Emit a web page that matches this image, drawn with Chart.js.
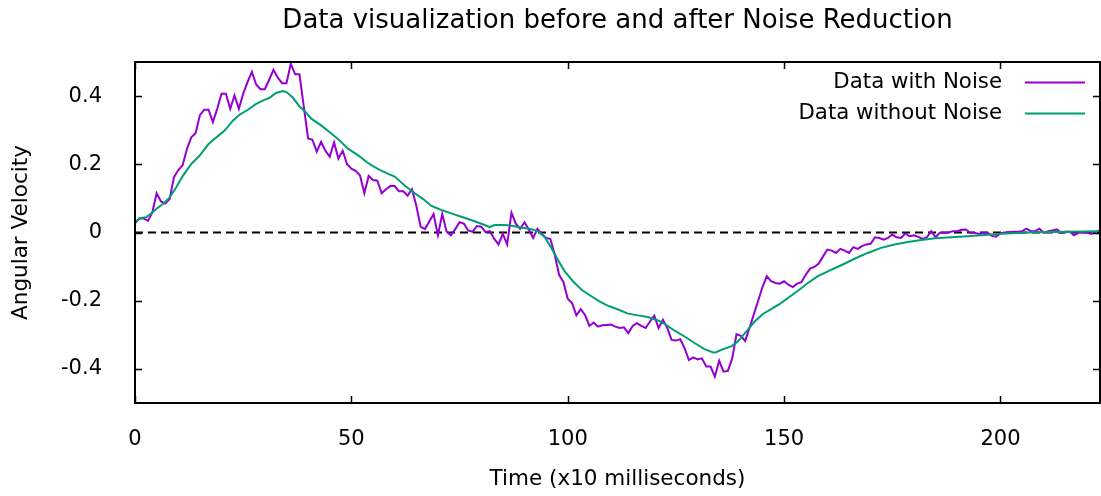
<!DOCTYPE html>
<html>
<head>
<meta charset="utf-8">
<script src="https://cdn.jsdelivr.net/npm/chart.js@4.4.0/dist/chart.umd.min.js"></script>
<style>
  html, body { margin: 0; padding: 0; background: #fff; }
  #wrap { width: 1101px; height: 496px; }
</style>
</head>
<body>
<div id="wrap"><canvas id="chart" width="1101" height="496"></canvas></div>
<script>
// noisy samples, one per time step (x10 ms), starting at 0
const noisyValues = [
  0.027, 0.041, 0.042, 0.034, 0.059, 0.115, 0.091, 0.085, 0.098, 0.162,
  0.183, 0.197, 0.245, 0.279, 0.291, 0.344, 0.360, 0.360, 0.324, 0.363,
  0.407, 0.407, 0.363, 0.402, 0.363, 0.407, 0.441, 0.471, 0.434, 0.420,
  0.420, 0.448, 0.477, 0.454, 0.438, 0.438, 0.495, 0.464, 0.464, 0.370,
  0.276, 0.272, 0.237, 0.266, 0.240, 0.222, 0.264, 0.217, 0.240, 0.200,
  0.187, 0.181, 0.167, 0.115, 0.166, 0.154, 0.152, 0.115, 0.127, 0.136,
  0.136, 0.121, 0.121, 0.108, 0.127, 0.079, 0.017, 0.010, 0.032, 0.054,
  -0.008, 0.054, 0.003, -0.008, 0.010, 0.030, 0.026, 0.006, 0.002, 0.019,
  0.017, 0.001, 0.004, -0.018, -0.035, -0.004, -0.035, 0.058, 0.026, 0.011,
  0.030, 0.009, -0.016, 0.011, -0.004, -0.016, -0.019, -0.065, -0.124, -0.145,
  -0.194, -0.207, -0.243, -0.225, -0.242, -0.274, -0.264, -0.276, -0.272, -0.271,
  -0.270, -0.276, -0.280, -0.278, -0.295, -0.274, -0.266, -0.274, -0.280, -0.261,
  -0.244, -0.280, -0.256, -0.280, -0.315, -0.317, -0.313, -0.339, -0.374, -0.366,
  -0.372, -0.369, -0.393, -0.393, -0.423, -0.376, -0.408, -0.406, -0.370, -0.298,
  -0.303, -0.318, -0.280, -0.240, -0.200, -0.160, -0.128, -0.143, -0.148, -0.150,
  -0.143, -0.153, -0.160, -0.150, -0.146, -0.124, -0.106, -0.101, -0.091, -0.070,
  -0.050, -0.053, -0.060, -0.048, -0.053, -0.060, -0.043, -0.048, -0.040, -0.035,
  -0.033, -0.014, -0.016, -0.021, -0.016, -0.006, -0.014, -0.016, -0.003, -0.011,
  -0.008, -0.013, -0.019, -0.014, 0.004, -0.014, -0.001, -0.001, 0.000, 0.004,
  0.004, 0.008, 0.009, -0.001, -0.001, -0.004, -0.001, -0.001, -0.010, -0.012,
  -0.002, 0.000, 0.001, 0.002, 0.002, 0.004, 0.011, 0.004, 0.004, 0.011,
  -0.001, 0.004, 0.006, 0.009, -0.001, 0.002, 0.002, -0.008, -0.001, -0.001,
  -0.001, -0.004, 0.002, 0.006
];

const smoothTimes = [
  0, 1.1, 2.6, 3.8, 4.9, 6.5, 8, 9.5, 11.1, 13, 14.9, 16.9, 18.8, 20.7, 22.6,
  24.2, 26.1, 28, 29.9, 31.1, 32.6, 34.2, 35.1, 36.5, 38, 39.3, 40.8, 43, 45,
  46.9, 49.3, 51.6, 53.9, 56.2, 58.5, 60, 62.4, 64.3, 66.6, 68.5, 70.8, 73.1,
  75.4, 78.5, 80.8, 81.9, 83.1, 85.4, 87.4, 89.3, 91.2, 93.1, 94.7, 96.2, 97.8,
  99.3, 101.2, 103.2, 105.1, 107, 109.3, 111.5, 113.9, 116.2, 118.5, 120.9,
  122.4, 124.7, 127, 129.3, 131.6, 133.6, 134.3, 135.9, 137.8, 139.3, 141.3,
  143.2, 145.1, 147.1, 149.2, 150.9, 153.2, 155.5, 157.8, 160.1, 163.2, 166.3,
  169.3, 172.4, 175.5, 178.6, 181.7, 184.8, 192.4, 200.1, 207.8, 215.5, 223
];
const smoothValues = [
  0.030, 0.042, 0.045, 0.056, 0.069, 0.084, 0.103, 0.132, 0.167, 0.201, 0.225,
  0.258, 0.279, 0.299, 0.328, 0.346, 0.360, 0.377, 0.389, 0.395, 0.409, 0.415,
  0.411, 0.395, 0.370, 0.355, 0.333, 0.314, 0.294, 0.274, 0.245, 0.226, 0.203,
  0.186, 0.172, 0.164, 0.137, 0.118, 0.098, 0.078, 0.066, 0.056, 0.046, 0.033,
  0.022, 0.016, 0.022, 0.022, 0.019, 0.014, 0.011, 0.004, -0.014, -0.045,
  -0.082, -0.114, -0.143, -0.168, -0.184, -0.200, -0.215, -0.225, -0.238,
  -0.243, -0.248, -0.258, -0.268, -0.288, -0.305, -0.324, -0.342, -0.352,
  -0.351, -0.342, -0.334, -0.320, -0.290, -0.261, -0.239, -0.224, -0.208,
  -0.192, -0.171, -0.148, -0.128, -0.114, -0.096, -0.077, -0.060, -0.045,
  -0.035, -0.028, -0.022, -0.017, -0.011, -0.004, 0.001, 0.002, 0.004
];

const xTicks = [0, 50, 100, 150, 200];
const yTicks = [-0.4, -0.2, 0, 0.2, 0.4];
const seriesNames = ['Data with Noise', 'Data without Noise'];
const seriesColors = ['#9400d3', '#009e73'];

const FONT = "'DejaVu Sans', Verdana, sans-serif";

// box around the plot with inward ticks on all sides (gnuplot look)
const framePlugin = {
  id: 'frame',
  afterDatasetsDraw(chart) {
    const { ctx, chartArea: a, scales } = chart;
    ctx.save();
    ctx.strokeStyle = '#000';
    ctx.lineWidth = 1.5;
    ctx.beginPath();
    xTicks.forEach(v => {
      const px = Math.round(scales.x.getPixelForValue(v)) + 0.5;
      ctx.moveTo(px, a.bottom); ctx.lineTo(px, a.bottom - 7);
      ctx.moveTo(px, a.top); ctx.lineTo(px, a.top + 7);
    });
    yTicks.forEach(v => {
      const py = Math.round(scales.y.getPixelForValue(v)) + 0.5;
      ctx.moveTo(a.left, py); ctx.lineTo(a.left + 7, py);
      ctx.moveTo(a.right, py); ctx.lineTo(a.right - 7, py);
    });
    ctx.stroke();
    ctx.lineWidth = 2;
    ctx.strokeRect(a.left, a.top, a.right - a.left, a.bottom - a.top);
    ctx.restore();
  }
};

// key in the top right corner: label first, then line sample
const keyPlugin = {
  id: 'key',
  afterDraw(chart) {
    const { ctx } = chart;
    ctx.save();
    ctx.font = '21.3px ' + FONT;
    ctx.fillStyle = '#000';
    ctx.textAlign = 'right';
    ctx.textBaseline = 'middle';
    seriesNames.forEach((name, i) => {
      const y = 82 + i * 31;
      ctx.fillText(name, 1002, y);
      ctx.strokeStyle = seriesColors[i];
      ctx.lineWidth = 2;
      ctx.beginPath();
      ctx.moveTo(1025, y + 0.5);
      ctx.lineTo(1085, y + 0.5);
      ctx.stroke();
    });
    ctx.restore();
  }
};

const ctx = document.getElementById('chart').getContext('2d');
new Chart(ctx, {
  type: 'line',
  data: {
    datasets: [
      {
        label: seriesNames[1],
        data: smoothTimes.map((t, i) => ({ x: t, y: smoothValues[i] })),
        borderColor: seriesColors[1],
        borderWidth: 2,
        pointRadius: 0,
        tension: 0,
        order: 0
      },
      {
        label: seriesNames[0],
        data: noisyValues.map((v, i) => ({ x: i, y: v })),
        borderColor: seriesColors[0],
        borderWidth: 2,
        pointRadius: 0,
        tension: 0,
        order: 1
      },
      {
        label: 'zero',
        data: [{ x: 0, y: 0 }, { x: 223, y: 0 }],
        borderColor: '#000',
        borderWidth: 2,
        borderDash: [8, 5],
        pointRadius: 0,
        order: 2
      }
    ]
  },
  options: {
    responsive: false,
    animation: false,
    layout: { padding: { left: 0, right: 1, top: 0, bottom: 0 } },
    plugins: {
      legend: { display: false },
      tooltip: { enabled: false },
      title: {
        display: true,
        fullSize: false,
        text: 'Data visualization before and after Noise Reduction',
        color: '#000',
        font: { family: FONT, size: 26, weight: 'normal' },
        padding: { top: 6, bottom: 24.8 }
      }
    },
    scales: {
      x: {
        type: 'linear',
        min: 0,
        max: 223,
        grid: { display: false },
        border: { display: false },
        afterBuildTicks: s => { s.ticks = xTicks.map(v => ({ value: v })); },
        afterFit: s => { s.height = 93; },
        ticks: {
          color: '#000',
          padding: 16,
          maxRotation: 0,
          font: { family: FONT, size: 21 }
        },
        title: {
          display: true,
          text: 'Time (x10 milliseconds)',
          color: '#000',
          font: { family: FONT, size: 21.5 },
          padding: { top: 0, bottom: 4 }
        }
      },
      y: {
        min: -0.5,
        max: 0.5,
        grid: { display: false },
        border: { display: false },
        afterBuildTicks: s => { s.ticks = yTicks.map(v => ({ value: v })); },
        afterFit: s => { s.width = 135; },
        ticks: {
          color: '#000',
          padding: 25,
          font: { family: FONT, size: 21 },
          callback: v => String(v)
        },
        title: {
          display: true,
          text: 'Angular Velocity',
          color: '#000',
          font: { family: FONT, size: 21.5 },
          padding: { top: 9, bottom: 0 }
        }
      }
    }
  },
  plugins: [framePlugin, keyPlugin]
});
</script>
</body>
</html>
